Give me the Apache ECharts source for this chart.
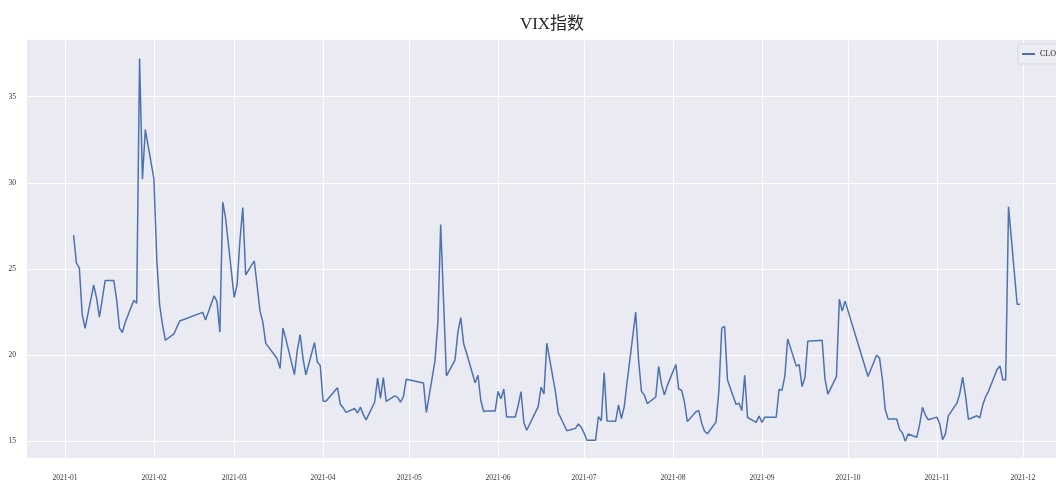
<!DOCTYPE html>
<html><head><meta charset="utf-8">
<script src="https://cdn.jsdelivr.net/npm/echarts@6/dist/echarts.min.js"></script>
<style>html,body{margin:0;padding:0;background:#fff}#c{width:1056px;height:486px}</style>
</head><body><div id="c"></div>
<script>
const chartTitle = 'VIX指数';
const seriesName = 'CLOSE';
const dates = [
'2021-01-04','2021-01-05','2021-01-06','2021-01-07','2021-01-08','2021-01-11','2021-01-12','2021-01-13','2021-01-14','2021-01-15',
'2021-01-18','2021-01-19','2021-01-20','2021-01-21','2021-01-22','2021-01-25','2021-01-26','2021-01-27','2021-01-28','2021-01-29',
'2021-02-01','2021-02-02','2021-02-03','2021-02-04','2021-02-05','2021-02-08','2021-02-09','2021-02-10','2021-02-18','2021-02-19',
'2021-02-22','2021-02-23','2021-02-24','2021-02-25','2021-02-26',
'2021-03-01','2021-03-02','2021-03-03','2021-03-04','2021-03-05','2021-03-08','2021-03-09','2021-03-10','2021-03-11','2021-03-12',
'2021-03-15','2021-03-16','2021-03-17','2021-03-18','2021-03-19','2021-03-22','2021-03-23','2021-03-24','2021-03-25','2021-03-26',
'2021-03-29','2021-03-30','2021-03-31',
'2021-04-01','2021-04-02','2021-04-06','2021-04-07','2021-04-08','2021-04-09','2021-04-12','2021-04-13','2021-04-14','2021-04-15',
'2021-04-16','2021-04-19','2021-04-20','2021-04-21','2021-04-22','2021-04-23','2021-04-26','2021-04-27','2021-04-28','2021-04-29','2021-04-30',
'2021-05-06','2021-05-07','2021-05-10','2021-05-11','2021-05-12','2021-05-13','2021-05-14','2021-05-17','2021-05-18','2021-05-19',
'2021-05-20','2021-05-21','2021-05-24','2021-05-25','2021-05-26','2021-05-27','2021-05-28','2021-05-31',
'2021-06-01','2021-06-02','2021-06-03','2021-06-04','2021-06-07','2021-06-08','2021-06-09','2021-06-10','2021-06-11','2021-06-15',
'2021-06-16','2021-06-17','2021-06-18','2021-06-21','2021-06-22','2021-06-23','2021-06-24','2021-06-25','2021-06-28','2021-06-29','2021-06-30',
'2021-07-01','2021-07-02','2021-07-05','2021-07-06','2021-07-07','2021-07-08','2021-07-09','2021-07-12','2021-07-13','2021-07-14',
'2021-07-15','2021-07-16','2021-07-19','2021-07-20','2021-07-21','2021-07-22','2021-07-23','2021-07-26','2021-07-27','2021-07-28',
'2021-07-29','2021-07-30',
'2021-08-02','2021-08-03','2021-08-04','2021-08-05','2021-08-06','2021-08-09','2021-08-10','2021-08-11','2021-08-12','2021-08-13',
'2021-08-16','2021-08-17','2021-08-18','2021-08-19','2021-08-20','2021-08-23','2021-08-24','2021-08-25','2021-08-26','2021-08-27',
'2021-08-30','2021-08-31',
'2021-09-01','2021-09-02','2021-09-03','2021-09-06','2021-09-07','2021-09-08','2021-09-09','2021-09-10','2021-09-13','2021-09-14',
'2021-09-15','2021-09-16','2021-09-17','2021-09-22','2021-09-23','2021-09-24','2021-09-27','2021-09-28','2021-09-29','2021-09-30',
'2021-10-08','2021-10-11','2021-10-12','2021-10-13','2021-10-14','2021-10-15','2021-10-18','2021-10-19','2021-10-20','2021-10-21',
'2021-10-22','2021-10-25','2021-10-26','2021-10-27','2021-10-28','2021-10-29',
'2021-11-01','2021-11-02','2021-11-03','2021-11-04','2021-11-05','2021-11-08','2021-11-09','2021-11-10','2021-11-11','2021-11-12',
'2021-11-15','2021-11-16','2021-11-17','2021-11-18','2021-11-19','2021-11-22','2021-11-23','2021-11-24','2021-11-25','2021-11-26',
'2021-11-29','2021-11-30'
];
const closes = [
26.97,25.34,25.07,22.37,21.56,24.08,23.33,22.21,23.25,24.34,
24.34,23.24,21.58,21.32,21.91,23.19,23.02,37.21,30.21,33.09,
30.24,25.56,22.91,21.77,20.87,21.24,21.63,21.99,22.49,22.05,
23.45,23.11,21.34,28.89,27.95,
23.35,24.10,26.67,28.57,24.66,25.47,24.03,22.56,21.91,20.69,
20.03,19.79,19.23,21.58,20.95,18.88,20.30,21.20,19.81,18.86,
20.74,19.61,19.40,
17.33,17.33,18.12,17.16,16.95,16.69,16.91,16.65,16.99,16.57,
16.25,17.29,18.68,17.50,18.71,17.33,17.64,17.56,17.28,17.61,18.61,
18.39,16.69,19.66,21.84,27.59,23.13,18.81,19.72,21.34,22.18,
20.67,20.15,18.40,18.84,17.36,16.74,16.76,16.76,
17.90,17.48,18.04,16.42,16.42,17.07,17.89,16.10,15.65,17.02,
18.15,17.75,20.70,17.89,16.66,16.32,15.97,15.62,15.76,16.02,15.83,
15.48,15.07,15.07,16.44,16.20,19.00,16.18,16.17,17.12,16.33,
17.01,18.45,22.50,19.73,17.91,17.69,17.20,17.58,19.36,18.31,
17.70,18.24,
19.46,18.04,17.97,17.28,16.15,16.72,16.79,16.06,15.59,15.45,
16.12,17.91,21.57,21.67,18.56,17.15,17.22,16.79,18.84,16.39,
16.11,16.48,
16.11,16.41,16.41,16.41,18.03,17.96,18.80,20.95,19.37,19.46,
18.18,18.69,20.81,20.87,18.63,17.75,18.76,23.25,22.56,23.14,
18.77,20.00,19.85,18.64,16.86,16.30,16.30,15.70,15.49,15.01,
15.43,15.24,15.98,16.98,16.53,16.26,
16.41,16.03,15.10,15.44,16.48,17.22,17.78,18.73,17.66,16.29,
16.49,16.37,17.11,17.59,17.91,19.17,19.38,18.58,18.58,28.62,
22.96,22.96
];
const xTickDates = ['2021-01-01','2021-02-01','2021-03-01','2021-04-01','2021-05-01','2021-06-01',
  '2021-07-01','2021-08-01','2021-09-01','2021-10-01','2021-11-01','2021-12-01'];
const yTicks = [15, 20, 25, 30, 35];

const DAY = 86400000;
const toTs = s => { const p = s.split('-'); return Date.UTC(+p[0], +p[1]-1, +p[2]); };
const xMin = toTs('2021-01-01') - 13.25 * DAY;
const xMax = xMin + 358.8 * DAY;
const xTicksTs = xTickDates.map(toTs);
const seriesData = dates.map((d, i) => [toTs(d), closes[i]]);
const pad2 = n => (n < 10 ? '0' : '') + n;

const chart = echarts.init(document.getElementById('c'), null, {renderer: 'canvas'});
chart.setOption({
  animation: false,
  backgroundColor: '#ffffff',
  title: {
    text: chartTitle, left: 547, top: 11, textAlign: 'center',
    textStyle: {fontSize: 17, fontWeight: 'normal', color: '#262626',
      fontFamily: '"Liberation Serif", "Noto Sans CJK SC", serif'}
  },
  legend: {
    left: 1018, top: 44, padding: [6, 5, 6, 4], itemGap: 4,
    icon: 'rect', itemWidth: 13, itemHeight: 2,
    backgroundColor: 'rgba(236,236,243,0.9)', borderColor: '#d6d6de', borderWidth: 1, borderRadius: 2,
    textStyle: {fontSize: 8, color: '#262626', fontFamily: '"Liberation Serif", serif'},
    data: [seriesName]
  },
  grid: {left: 27, right: 0, top: 40, bottom: 28, show: true, backgroundColor: '#EAEAF2', borderWidth: 0, containLabel: false},
  xAxis: {
    type: 'value', min: xMin, max: xMax,
    axisLine: {show: false},
    axisTick: {show: false, customValues: xTicksTs},
    axisLabel: {
      customValues: xTicksTs, margin: 16, fontSize: 7.5, color: '#333',
      fontFamily: '"Liberation Serif", serif',
      formatter: v => { const d = new Date(v); return d.getUTCFullYear() + '-' + pad2(d.getUTCMonth() + 1); }
    },
    splitLine: {show: true, lineStyle: {color: '#ffffff', width: 1}}
  },
  yAxis: {
    type: 'value', min: 14.04, max: 38.29,
    axisLine: {show: false},
    axisTick: {show: false, customValues: yTicks},
    axisLabel: {customValues: yTicks, margin: 11, fontSize: 7.5, color: '#333', fontFamily: '"Liberation Serif", serif'},
    splitLine: {show: true, lineStyle: {color: '#ffffff', width: 1}}
  },
  series: [{
    name: seriesName, type: 'line', data: seriesData, showSymbol: false, symbol: 'none',
    lineStyle: {color: '#4C72B0', width: 1.5}, itemStyle: {color: '#4C72B0'}
  }]
});
</script>
</body></html>
